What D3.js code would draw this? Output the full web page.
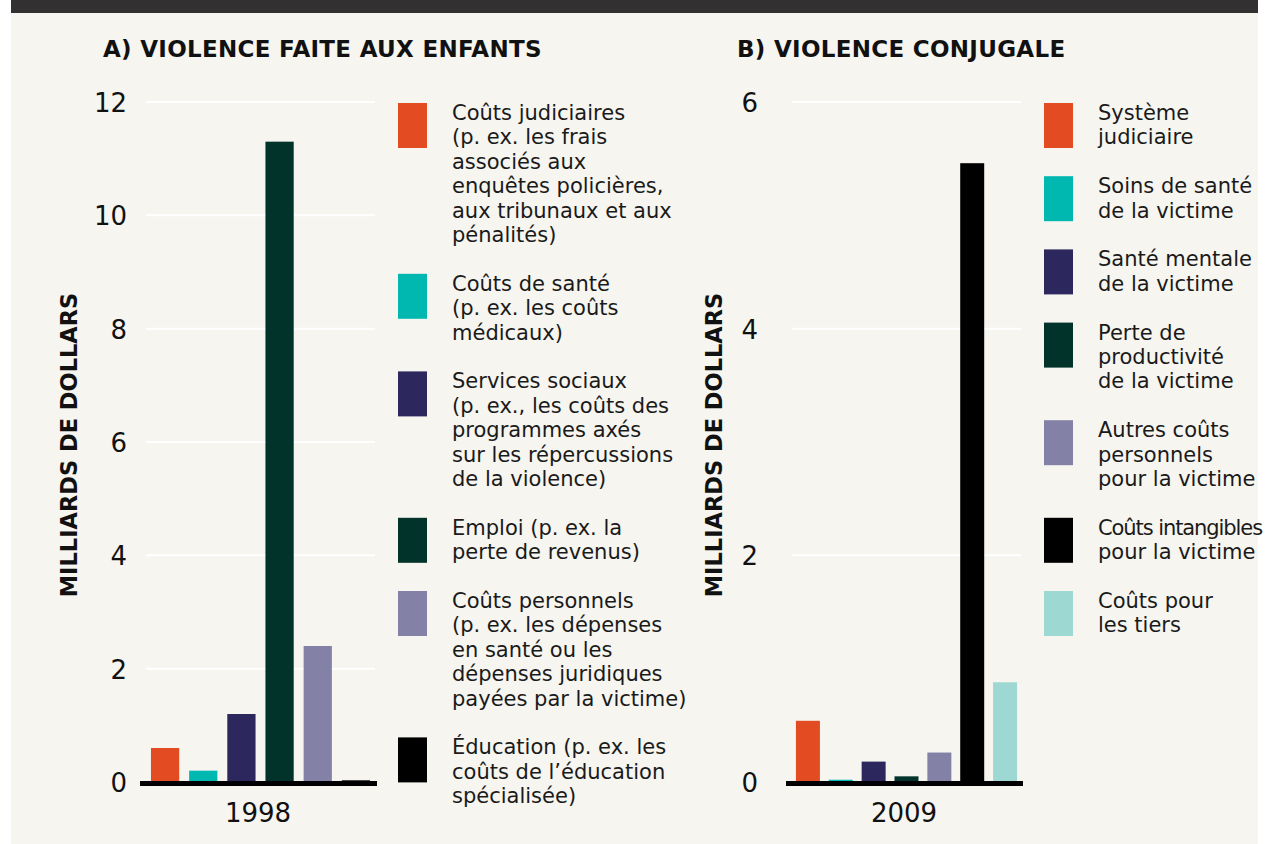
<!DOCTYPE html>
<html>
<head>
<meta charset="utf-8">
<script src="https://cdn.jsdelivr.net/npm/d3@7"></script>
<style>
  body { margin: 0; background: #ffffff; }
  text { font-family: "DejaVu Sans", sans-serif; fill: #1a1a1a; }
</style>
</head>
<body>
<div id="chart"></div>
<script>
var svgWidth = 1265;
var svgHeight = 844;

// Data
var childCategories = ["Coûts judiciaires", "Coûts de santé", "Services sociaux", "Emploi", "Coûts personnels", "Éducation"];
var childValues = [0.6, 0.2, 1.2, 11.3, 2.4, 0.03];
var childTicks = [0, 2, 4, 6, 8, 10, 12];
var childYear = "1998";
var childLegend = [
  ["Coûts judiciaires", "(p. ex. les frais", "associés aux", "enquêtes policières,", "aux tribunaux et aux", "pénalités)"],
  ["Coûts de santé", "(p. ex. les coûts", "médicaux)"],
  ["Services sociaux", "(p. ex., les coûts des", "programmes axés", "sur les répercussions", "de la violence)"],
  ["Emploi (p. ex. la", "perte de revenus)"],
  ["Coûts personnels", "(p. ex. les dépenses", "en santé ou les", "dépenses juridiques", "payées par la victime)"],
  ["Éducation (p. ex. les", "coûts de l’éducation", "spécialisée)"]
];

var spouseCategories = ["Système judiciaire", "Soins de santé", "Santé mentale", "Perte de productivité", "Autres coûts personnels", "Coûts intangibles", "Coûts pour les tiers"];
var spouseValues = [0.54, 0.02, 0.18, 0.05, 0.26, 5.46, 0.88];
var spouseTicks = [0, 2, 4, 6];
var spouseYear = "2009";
var spouseLegend = [
  ["Système", "judiciaire"],
  ["Soins de santé", "de la victime"],
  ["Santé mentale", "de la victime"],
  ["Perte de", "productivité", "de la victime"],
  ["Autres coûts", "personnels", "pour la victime"],
  ["Coûts intangibles", "pour la victime"],
  ["Coûts pour", "les tiers"]
];

var childColors = ["#e34c22", "#00b8b0", "#2c285e", "#01332a", "#8382a6", "#000000"];
var spouseColors = ["#e34c22", "#00b8b0", "#2c285e", "#01332a", "#8382a6", "#000000", "#9dd8d3"];

var svg = d3.select("#chart")
  .append("svg")
  .attr("width", svgWidth)
  .attr("height", svgHeight);

// page background and dark band on top
svg.append("rect")
  .attr("x", 11).attr("y", 0)
  .attr("width", 1247).attr("height", svgHeight)
  .attr("fill", "#f6f5f0");

svg.append("rect")
  .attr("x", 11).attr("y", 0)
  .attr("width", 1247).attr("height", 13)
  .attr("fill", "#323031");

function drawPanel(opts) {
  var g = svg.append("g");

  var yScale = d3.scaleLinear()
    .domain([0, d3.max(opts.ticks)])
    .range([782, 102]);

  var xScale = d3.scaleBand()
    .domain(opts.categories)
    .range(opts.xRange)
    .paddingInner(opts.padIn)
    .paddingOuter(opts.padOut);

  var color = d3.scaleOrdinal()
    .domain(opts.categories)
    .range(opts.colors);

  // title
  g.append("text")
    .attr("x", opts.titleX)
    .attr("y", 57)
    .attr("font-size", "23px")
    .attr("font-weight", "bold")
    .attr("letter-spacing", "0.3px")
    .style("fill", "#111")
    .text(opts.title);

  // gridlines
  g.selectAll(".grid")
    .data(opts.ticks.filter(d => d > 0))
    .enter()
    .append("line")
    .attr("x1", opts.xRange[0])
    .attr("x2", opts.xRange[1])
    .attr("y1", d => yScale(d))
    .attr("y2", d => yScale(d))
    .attr("stroke", "#ffffff")
    .attr("stroke-width", 2);

  // y tick labels
  var leftAxis = d3.axisLeft(yScale)
    .tickValues(opts.ticks)
    .tickSize(0)
    .tickPadding(0)
    .tickFormat(d3.format("d"));

  var axisG = g.append("g")
    .attr("transform", `translate(${opts.tickX}, 0)`)
    .call(leftAxis);
  axisG.select(".domain").remove();
  axisG.selectAll("text")
    .attr("font-family", "DejaVu Sans, sans-serif")
    .attr("font-size", "26px")
    .attr("dy", "0.36em")
    .style("fill", "#111");

  // y axis title
  g.append("text")
    .attr("transform", `translate(${opts.yTitleX}, 445) rotate(-90)`)
    .attr("text-anchor", "middle")
    .attr("font-size", "22.5px")
    .attr("font-weight", "bold")
    .style("fill", "#111")
    .text("MILLIARDS DE DOLLARS");

  // bars
  g.selectAll(".bar")
    .data(opts.values)
    .enter()
    .append("rect")
    .attr("x", (d, i) => xScale(opts.categories[i]))
    .attr("y", d => yScale(d))
    .attr("width", xScale.bandwidth())
    .attr("height", d => yScale(0) - yScale(d))
    .attr("fill", (d, i) => color(opts.categories[i]));

  // baseline
  g.append("line")
    .attr("x1", opts.axisRange[0])
    .attr("x2", opts.axisRange[1])
    .attr("y1", yScale(0) + 1.5)
    .attr("y2", yScale(0) + 1.5)
    .attr("stroke", "#000")
    .attr("stroke-width", 5);

  // year label
  g.append("text")
    .attr("x", opts.yearX)
    .attr("y", 822)
    .attr("text-anchor", "middle")
    .attr("font-size", "26px")
    .style("fill", "#111")
    .text(opts.year);

  // legend
  var lineH = 24.4;
  var top = 103;
  opts.legend.forEach(function(lines, i) {
    g.append("rect")
      .attr("x", opts.legendX)
      .attr("y", top)
      .attr("width", 29)
      .attr("height", 45)
      .attr("fill", color(opts.categories[i]));

    var t = g.append("text")
      .attr("x", opts.legendX + 54)
      .attr("y", top + 17)
      .attr("font-size", "21px")
      .style("fill", "#1a1a1a");
    lines.forEach(function(line, j) {
      var span = t.append("tspan")
        .attr("x", opts.legendX + 54)
        .attr("dy", j === 0 ? 0 : lineH)
        .text(line);
      // squeeze a line that would run off the page
      var maxW = svgWidth - 3 - (opts.legendX + 54);
      var w = span.node().getComputedTextLength();
      if (w > maxW) {
        span.attr("letter-spacing", ((maxW - w) / line.length).toFixed(2) + "px");
      }
    });
    top += (lines.length + 1) * lineH;
  });
}

drawPanel({
  title: "A) VIOLENCE FAITE AUX ENFANTS",
  titleX: 103,
  categories: childCategories,
  values: childValues,
  ticks: childTicks,
  colors: childColors,
  legend: childLegend,
  year: childYear,
  xRange: [146, 375],
  padIn: 0.26,
  padOut: 0.13,
  axisRange: [140, 377],
  tickX: 127,
  yTitleX: 77,
  yearX: 258,
  legendX: 398
});

drawPanel({
  title: "B) VIOLENCE CONJUGALE",
  titleX: 737,
  categories: spouseCategories,
  values: spouseValues,
  ticks: spouseTicks,
  colors: spouseColors,
  legend: spouseLegend,
  year: spouseYear,
  xRange: [792, 1021],
  padIn: 0.27,
  padOut: 0.12,
  axisRange: [786, 1023],
  tickX: 758,
  yTitleX: 722,
  yearX: 904,
  legendX: 1044
});
</script>
</body>
</html>
